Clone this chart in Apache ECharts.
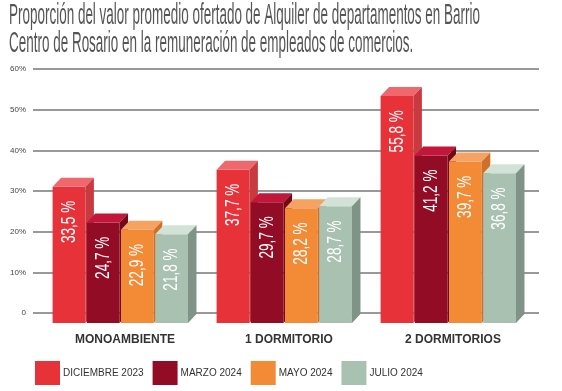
<!DOCTYPE html>
<html>
<head>
<meta charset="utf-8">
<script src="https://cdn.jsdelivr.net/npm/echarts@6/dist/echarts.min.js"></script>
<style>html,body{margin:0;padding:0;background:#fff;}#c{width:562px;height:391px;}</style>
</head>
<body>
<div id="c"></div>
<script>
const categories = ['MONOAMBIENTE', '1 DORMITORIO', '2 DORMITORIOS'];
const seriesNames = ['DICIEMBRE 2023', 'MARZO 2024', 'MAYO 2024', 'JULIO 2024'];
const dic2023 = [33.5, 37.7, 55.8];
const mar2024 = [24.7, 29.7, 41.2];
const may2024 = [22.9, 28.2, 39.7];
const jul2024 = [21.8, 28.7, 36.8];
const yMin = 0, yMax = 60, yStep = 10;
const titleLines = [
  'Proporción del valor promedio ofertado de Alquiler de departamentos en Barrio',
  'Centro de Rosario en la remuneración de empleados de comercios.'
];

const seriesValues = [dic2023, mar2024, may2024, jul2024];
const frontColors = ['#e8323a', '#930c25', '#f28a36', '#a9c1b1'];
const topColors = ['#f0686d', '#c2173a', '#f5a262', '#d3e2d6'];
const sideColors = ['#c63a40', '#72091b', '#d06f2a', '#7f9487'];

const TITLE_FONT = '29px "Liberation Sans"';
const cv = document.createElement('canvas').getContext('2d');
cv.font = TITLE_FONT;
const titleScale = 471 / cv.measureText(titleLines[0]).width;

function fmt(v) { return v.toFixed(1).replace('.', ',') + ' %'; }

function renderItem(params, api) {
  const si = params.seriesIndex;
  const cat = api.value(0), v = api.value(1);
  const c = api.coord([cat, v]);
  const c0 = api.coord([cat, 0]);
  const band = api.size([1, 0])[0];
  const w = band * 0.2, step = band * 0.2085;
  const off = 10, dx = 8.5, dy = 9;
  const x = c[0] - band * 0.4415 + si * step;
  const yT = c[1] + off, yB = c0[1] + off;
  return {
    type: 'group',
    children: [
      { type: 'rect', shape: { x: x, y: yT, width: w, height: yB - yT }, style: { fill: frontColors[si] } },
      { type: 'polygon', shape: { points: [[x, yT], [x + dx, yT - dy], [x + w + dx, yT - dy], [x + w, yT]] }, style: { fill: topColors[si] } },
      { type: 'polygon', shape: { points: [[x + w, yT], [x + w + dx, yT - dy], [x + w + dx, yB - dy], [x + w, yB]] }, style: { fill: sideColors[si] } },
      { type: 'text', x: x + w / 2, y: yT + 14, rotation: Math.PI / 2, scaleX: 0.68,
        style: { text: fmt(v), fill: '#ffffff', font: '20px "Liberation Sans"', align: 'right', verticalAlign: 'middle' } }
    ]
  };
}

const chart = echarts.init(document.getElementById('c'), null, { renderer: 'canvas' });
chart.setOption({
  animation: false,
  color: frontColors,
  graphic: titleLines.map((t, i) => ({
    type: 'text', x: 9, y: i === 0 ? 16 : 43.5, scaleX: titleScale,
    style: { text: t, font: TITLE_FONT, fill: '#555555', verticalAlign: 'middle' }
  })),
  grid: [
    { left: 33, right: 23, top: 69, bottom: 78 },
    { left: 43, right: 27, top: 69, bottom: 78 }
  ],
  xAxis: [
    { gridIndex: 0, type: 'category', data: categories, show: false },
    { gridIndex: 1, type: 'category', data: categories,
      axisLine: { show: false }, axisTick: { show: false },
      axisLabel: { margin: 21, fontSize: 12, fontWeight: 'bold', color: '#333', fontFamily: 'Liberation Sans' } }
  ],
  yAxis: [
    { gridIndex: 0, type: 'value', min: yMin, max: yMax, interval: yStep,
      axisLine: { show: false }, axisTick: { show: false },
      axisLabel: { margin: 7, fontSize: 8, color: '#444', fontFamily: 'Liberation Sans',
        formatter: v => v === 0 ? '0' : v + '%' },
      splitLine: { lineStyle: { color: '#777', width: 1.5 } } },
    { gridIndex: 1, type: 'value', min: yMin, max: yMax, interval: yStep, show: false, splitLine: { show: false } }
  ],
  legend: {
    data: seriesNames, icon: 'rect', itemWidth: 25, itemHeight: 24, left: 35, top: 361, itemGap: 9,
    padding: 0,
    textStyle: { fontSize: 10, color: '#333', fontFamily: 'Liberation Sans', padding: [6, 0, 0, -2] }
  },
  series: seriesNames.map((name, i) => ({
    name: name, type: 'custom', xAxisIndex: 1, yAxisIndex: 1,
    itemStyle: { color: frontColors[i] },
    renderItem: renderItem,
    encode: { x: 0, y: 1 },
    data: seriesValues[i].map((v, k) => [k, v])
  }))
});
</script>
</body>
</html>
